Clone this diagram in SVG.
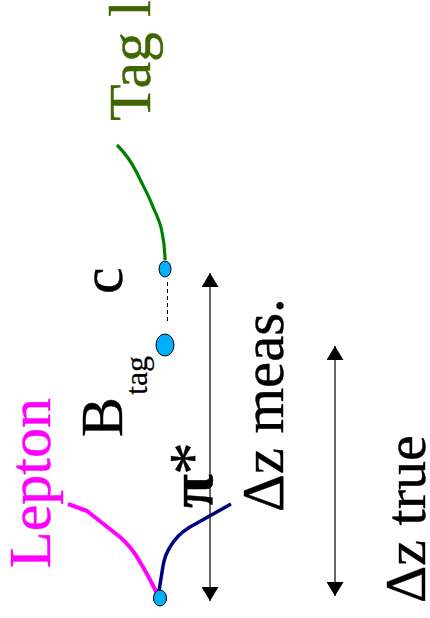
<svg xmlns="http://www.w3.org/2000/svg" width="430" height="618" viewBox="0 0 430 618">
<defs>
<marker id="ah" viewBox="0 0 14 17" refX="14" refY="8.5" markerWidth="14" markerHeight="17" markerUnits="userSpaceOnUse" orient="auto-start-reverse"><path d="M0 0L14 8.5L0 17Z" fill="#000"/></marker>
</defs>
<style>
text{font-family:"Liberation Serif","Times New Roman",serif;font-size:60px;fill:#000;stroke:#000;stroke-width:.4}
.v{fill:#00b0ff;stroke:#000;stroke-width:1}
.t{fill:none;stroke-linecap:butt;stroke-linejoin:round}
.a{stroke:#000;stroke-width:1.2;fill:none;marker-start:url(#ah);marker-end:url(#ah)}
</style>
<rect width="430" height="618" fill="#fff"/>
<g id="connectors">
<path class="t" stroke="#008000" stroke-width="3.2" d="M117 145C126 154 132 163 137 173C143 186 149 196 153 207C158 218 161 224 162 232C164 242 165 250 165 260"/>
<path class="t" stroke="#ff00ff" stroke-width="4" d="M68 504L87 511L120 537C128 544 134 551 140 562C147 573 152 584 158 595"/>
<path class="t" stroke="#000080" stroke-width="3.5" d="M231 504L190 527C180 533 174 540 170 547C165 555 164 560 163 566L159 591"/>
<path d="M167.5 282V324" stroke="#000" stroke-width="1" stroke-dasharray="4 3" fill="none"/>
<path class="a" d="M210 273V601"/>
<path class="a" d="M335 346V596"/>
</g>
<g id="vertex-primary"><ellipse class="v" cx="160" cy="598" rx="6.5" ry="8"/></g>
<g id="vertex-b"><ellipse class="v" cx="165" cy="345" rx="9" ry="11"/></g>
<g id="vertex-c"><ellipse class="v" cx="165" cy="269" rx="6" ry="8"/></g>
<g id="label-lepton"><text transform="translate(50 568) rotate(-90)" style="fill:#ff00ff;stroke:#ff00ff">Lepton</text></g>
<g id="label-tag"><text transform="translate(150 121) rotate(-90)" style="fill:#3f6600;stroke:#3f6600">Tag l</text></g>
<g id="label-b"><text transform="translate(122 437) rotate(-90)">B</text><text transform="translate(147 395) rotate(-90)" style="font-size:32px;stroke-width:.2">tag</text></g>
<g id="label-c"><text transform="translate(122 294) rotate(-90)">c</text></g>
<g id="label-pi"><text transform="translate(212 508) rotate(-90)" style="font-weight:bold;font-size:62px">π</text><text transform="translate(214 475) rotate(-90)" style="font-size:66px">*</text></g>
<g id="label-meas"><text transform="translate(283 512) rotate(-90)" style="font-size:58.7px">Δz meas.</text></g>
<g id="label-true"><text transform="translate(425 603) rotate(-90)" style="font-size:58px">Δz true</text></g>
</svg>
